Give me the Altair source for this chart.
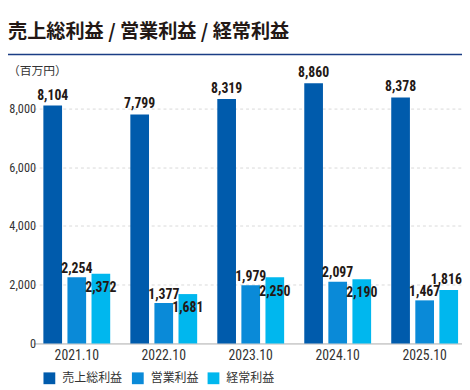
import altair as alt
import pandas as pd

years = ["2021.10", "2022.10", "2023.10", "2024.10", "2025.10"]
gross = [8104, 7799, 8319, 8860, 8378]
operating = [2254, 1377, 1979, 2097, 1467]
ordinary = [2372, 1681, 2250, 2190, 1816]
series = ["売上総利益", "営業利益", "経常利益"]
colors = ["#005bac", "#0a8ad8", "#00b7ee"]
y_ticks = [0, 2000, 4000, 6000, 8000]
title_text = "売上総利益 / 営業利益 / 経常利益"
unit_text = "（百万円）"
above_years = ["2025.10"]

rows = []
for i, yr in enumerate(years):
    for s, vals in zip(series, [gross, operating, ordinary]):
        rows.append({"year": yr, "series": s, "value": vals[i]})
df = pd.DataFrame(rows)

COND = "Roboto Condensed, Liberation Sans Narrow, Roboto, sans-serif"
JP = "Noto Sans CJK JP"
TXT = "#231815"

X = alt.X(
    "year:N",
    sort=years,
    scale=alt.Scale(range=[-7.25, 435.25], paddingInner=0, paddingOuter=0),
    axis=alt.Axis(
        title=None, labelAngle=0, ticks=False, domain=True, domainColor="#aaaaaa",
        labelFont=COND, labelFontSize=14, labelColor="#333333", labelPadding=5,
    ),
)
XO = alt.XOffset(
    "series:N", sort=series,
    scale=alt.Scale(domain=series, paddingInner=0.224, paddingOuter=0.418),
)
Y = alt.Y(
    "value:Q",
    scale=alt.Scale(domain=[0, 9000], nice=False),
    axis=alt.Axis(
        title=None, values=y_ticks, labelExpr="format(datum.value, ',')",
        grid=True, gridDash=[3, 3], gridColor="#d9d9d9",
        gridOpacity=alt.condition("datum.value === 0", alt.value(0), alt.value(1)),
        domain=False, ticks=False, labelPadding=5,
        labelFont=COND, labelFontSize=12.5, labelColor="#333333",
    ),
)

base = alt.Chart(df)

bars = base.mark_bar().encode(
    x=X, xOffset=XO, y=Y,
    color=alt.Color(
        "series:N", sort=series,
        scale=alt.Scale(domain=series, range=colors),
        legend=alt.Legend(
            title=None, orient="none", legendX=3, legendY=298, direction="horizontal",
            symbolType="square", symbolSize=144, symbolStrokeWidth=0, symbolOpacity=1,
            labelFont=JP, labelFontSize=12.2, labelColor="#333333",
            labelOffset=7, columnPadding=9, padding=0,
        ),
    ),
)


def labels(flt, dy, dx=0):
    return base.transform_filter(flt).mark_text(
        align="center", baseline="alphabetic", dy=dy, dx=dx,
        font=COND, fontSize=14, fontWeight="bold", color=TXT,
    ).encode(x=X, xOffset=XO, y=Y, text=alt.Text("value:Q", format=","))


above_test = "indexof(" + str(above_years) + ", datum.year) >= 0"
lab_gross = labels(alt.datum.series == series[0], -6)
lab_op = labels(alt.datum.series == series[1], -4.5)
lab_ord_in = labels(f"datum.series === '{series[2]}' && !({above_test})", 18.5)
lab_ord_out = labels(f"datum.series === '{series[2]}' && ({above_test})", -6, -2.5)

title = alt.Chart(pd.DataFrame({"t": [title_text]})).mark_text(
    align="left", baseline="middle", font=JP, fontSize=19.5, fontWeight="bold", color=TXT,
).encode(text="t:N", x=alt.value(-33), y=alt.value(-48))

unit = alt.Chart(pd.DataFrame({"t": [unit_text]})).mark_text(
    align="left", baseline="middle", font=JP, fontSize=12, color="#333333",
).encode(text="t:N", x=alt.value(-33), y=alt.value(-8.5))

line = alt.Chart(pd.DataFrame({"t": [0]})).mark_rule(
    color="#1b3d85", strokeWidth=1.5,
).encode(x=alt.value(-33), x2=alt.value(429), y=alt.value(-25))

chart = alt.layer(
    bars, lab_gross, lab_op, lab_ord_in, lab_ord_out, title, unit, line
).properties(
    width=429, height=269,
    autosize=alt.AutoSizeParams(type="none"),
    padding={"left": 33, "top": 69, "right": 0, "bottom": 44},
).configure_view(stroke=None)

chart.save("out.html", embed_options={"renderer": "svg", "actions": False})
